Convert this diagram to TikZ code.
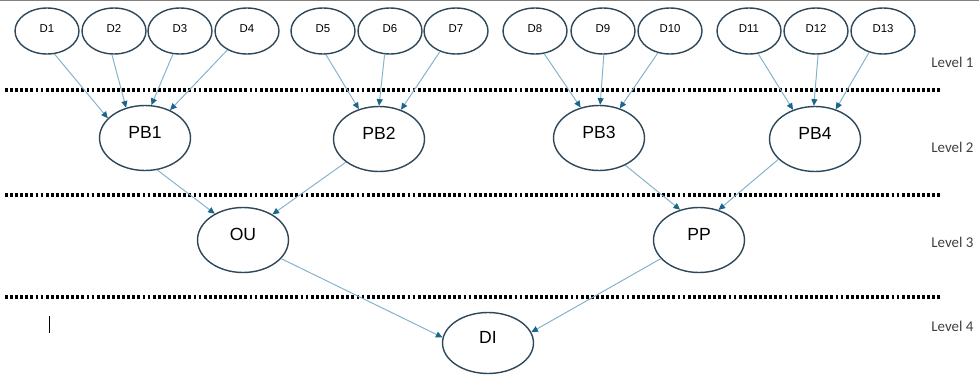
\documentclass[tikz,border=0pt]{standalone}
\usepackage{fontspec}
\setmainfont{Liberation Sans}
\newfontfamily\levelfont{Carlito}
\usetikzlibrary{arrows.meta,shapes.geometric}
\definecolor{nodeedge}{RGB}{46,72,90}
\definecolor{linkblue}{RGB}{130,178,202}
\definecolor{tipblue}{RGB}{28,102,140}
\definecolor{levelgray}{RGB}{62,62,62}
\tikzset{
  dev-node/.style={
    ellipse, draw=nodeedge, line width=0.8pt,
    minimum width=1.28cm, minimum height=0.92cm, inner sep=0pt,
    text height=4.6pt, text depth=3.4pt,
    font=\fontsize{6.5}{7.5}\selectfont
  },
  pb-node/.style={
    ellipse, draw=nodeedge, line width=0.8pt,
    minimum width=1.82cm, minimum height=1.3cm, inner sep=0pt,
    text height=7.2pt, text depth=6.4pt,
    font=\fontsize{10}{12}\selectfont
  },
  link/.style={
    draw=linkblue, line width=0.55pt,
    -{Triangle[length=3.8pt,width=3.4pt,color=tipblue]}
  },
  level-line/.style={line width=2pt, dash pattern=on 1.6pt off 1.3pt},
  level-label/.style={anchor=west, inner sep=0pt, text=levelgray,
    font=\levelfont\fontsize{8.5}{10}\selectfont}
}

\begin{document}
\begin{tikzpicture}[x=0.02cm, y=-0.02cm]
  \useasboundingbox (0,0) rectangle (979,375);
  \draw[gray, line width=0.8pt] (0,0.4) -- (979,0.4);
  % level separators
  \foreach \y in {90,195,297}
    \draw[level-line] (5,\y) -- (941,\y);
  \node[level-label] (lev1) at (931,62) {Level 1};
  \node[level-label] (lev2) at (931,147) {Level 2};
  \node[level-label] (lev3) at (931,242) {Level 3};
  \node[level-label] (lev4) at (931,326) {Level 4};
  % level 1
  \foreach \name/\x in {D1/47, D2/114, D3/180, D4/247, D5/323, D6/390, D7/456,
                        D8/535, D9/603, D10/670, D11/749, D12/816, D13/883}
    \node[dev-node] (\name) at (\x,31) {\name};
  % level 2 to 4
  \node[pb-node] (PB1) at (145,138) {PB1};
  \node[pb-node] (PB2) at (379,139) {PB2};
  \node[pb-node] (PB3) at (599,138) {PB3};
  \node[pb-node] (PB4) at (815,139) {PB4};
  \node[pb-node] (OU) at (243,240) {OU};
  \node[pb-node] (PP) at (699,240) {PP};
  \node[pb-node, minimum height=1.22cm] (DI) at (488,343) {DI};
  % connectors
  \foreach \from/\fa/\to/\ta in {D1/288/PB1/152, D2/265/PB1/122, D3/253/PB1/79,
      D4/224/PB1/48, D5/277/PB2/124, D6/257/PB2/90, D7/232/PB2/53,
      D8/292/PB3/121, D9/272/PB3/88, D10/241/PB3/55,
      D11/292/PB4/127, D12/275/PB4/92, D13/237/PB4/55,
      PB1/291/OU/137, PB2/215/OU/41, PB3/314/PP/122, PB4/209/PP/57,
      OU/334/DI/173, PP/206/DI/14}
    \draw[link] (\from.\fa) -- (\to.\ta);
  % caret
  \draw[line width=0.5pt] (49,316) -- (49,333);
\end{tikzpicture}
\end{document}
